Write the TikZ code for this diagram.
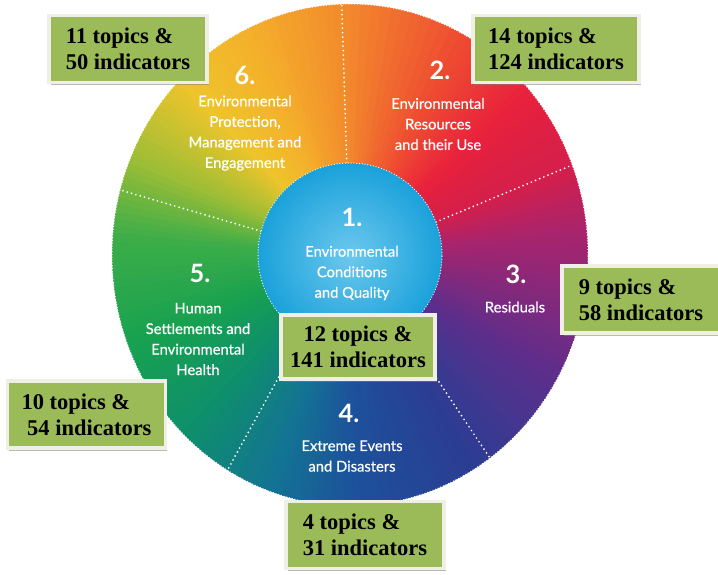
\documentclass[tikz,border=0pt]{standalone}
\usepackage{fontspec}
\setmainfont{Liberation Serif}
\newfontfamily\labfont[FakeBold=0.6]{Lato}
\newfontfamily\numfont{Lato}
\usetikzlibrary{shadows}

\definecolor{boxgreen}{HTML}{9BBB59}
\definecolor{boxframe}{HTML}{EFEFE6}
\definecolor{inblue}{HTML}{1AA1DA}
\definecolor{inlight}{HTML}{6CC8EE}
% colour stops round the wheel
\definecolor{wa}{HTML}{1C519B}
\definecolor{wb}{HTML}{2B3D93}
\definecolor{wc}{HTML}{5E2E8B}
\definecolor{wd}{HTML}{88287A}
\definecolor{we}{HTML}{A8246D}
\definecolor{wf}{HTML}{D41F4B}
\definecolor{wg}{HTML}{E8213C}
\definecolor{wh}{HTML}{EE4A32}
\definecolor{wi}{HTML}{F28A2C}
\definecolor{wj}{HTML}{F4B02B}
\definecolor{wk}{HTML}{EEC42B}
\definecolor{wl}{HTML}{A3BE35}
\definecolor{wm}{HTML}{3CAD49}
\definecolor{wn}{HTML}{18A150}
\definecolor{wo}{HTML}{0E8F6C}
\definecolor{wp}{HTML}{137394}

\begin{document}
\begin{tikzpicture}[x=0.025cm,y=0.025cm]
\tikzstyle{divider} = [draw=white, line width=1.4pt, line cap=round, dash pattern=on 0pt off 3.2pt];
\tikzstyle{rim} = [draw=white, line width=0.9pt, line cap=round, dash pattern=on 0pt off 2pt];
\tikzstyle{num} = [text=white, font=\numfont\bfseries\fontsize{18}{20}\selectfont];
\tikzstyle{lab} = [text=white, align=center, font=\labfont\fontsize{10.5}{14.6}\selectfont];
\tikzstyle{infobox} = [rectangle, fill=boxgreen, draw=boxframe, line width=2.8pt,
text=black, align=left, minimum width=3.95cm, minimum height=1.675cm,
font=\fontsize{16}{18.6}\selectfont\bfseries,
drop shadow={shadow xshift=1.3pt, shadow yshift=-1.8pt, fill=black!50, opacity=0.55}];

\useasboundingbox (0,0) rectangle (718,-574);
\fill[white] (0,0) rectangle (718,-574);

% wheel
\begin{scope}[shift={(350,-255)}]
\foreach \sa/\ea/\ca/\cb in {-90/-60/wa/wb, -60/-30/wb/wc, -30/-10/wc/wd, -10/5/wd/we,
  5/20/we/wf, 20/40/wf/wg, 40/60/wg/wh, 60/90/wh/wi, 90/115/wi/wj, 115/135/wj/wk,
  135/155/wk/wl, 155/175/wl/wm, 175/200/wm/wn, 200/225/wn/wo, 225/250/wo/wp, 250/270/wp/wa}
{
  \foreach \i in {0,...,11}
  {
    \pgfmathsetmacro\t{\sa+(\ea-\sa)*\i/12}
    \pgfmathsetmacro\p{100*\i/12}
    \pgfmathsetmacro\d{(\ea-\sa)/12+0.6}
    \fill[\cb!\p!\ca] (0,0) -- (\t:238 and 251)
      arc[start angle=\t, delta angle=\d, x radius=238, y radius=251] -- cycle;
  }
}
\draw[rim] (0,0) ellipse [x radius=238, y radius=251];
% dividers
\foreach \a in {92,21,-54,-121,165}
  \draw[divider] (\a:92) -- (\a:238 and 251);
% centre
\shade[inner color=inlight, outer color=inblue] (0,0) circle [radius=92];
\draw[rim] (0,0) circle [radius=92];
\end{scope}

% sector 1
\node[num] (num1) at (352,-217) {1.};
\node[lab] (lab1) at (352,-273) {Environmental\\Conditions\\and Quality};
% sector 2
\node[num] (num2) at (440,-70) {2.};
\node[lab] (lab2) at (438,-124) {Environmental\\Resources\\and their Use};
% sector 3
\node[num] (num3) at (516,-274) {3.};
\node[lab] (lab3) at (515,-307) {Residuals};
% sector 4
\node[num] (num4) at (349,-413) {4.};
\node[lab] (lab4) at (352,-456) {Extreme Events\\and Disasters};
% sector 5
\node[num] (num5) at (200,-273) {5.};
\node[lab] (lab5) at (198,-339) {Human\\Settlements and\\Environmental\\Health};
% sector 6
\node[num] (num6) at (245,-75) {6.};
\node[lab] (lab6) at (245,-133) {Environmental\\Protection,\\Management and\\Engagement};

% counts
\node[infobox] (box6) at (128,-49) {11 topics \&\\50 indicators};
\node[infobox, minimum width=4.15cm] (box2) at (556,-49) {14 topics \&\\124 indicators};
\node[infobox] (box3) at (641,-299.5) {9 topics \&\\58 indicators};
\node[infobox, align=center, minimum width=3.85cm, minimum height=1.6cm] (box1) at (358,-347) {12 topics \&\\141 indicators};
\node[infobox] (box5) at (86.5,-414.5) {10 topics \&\\\ 54 indicators};
\node[infobox] (box4) at (365,-535) {4 topics \&\\31 indicators};

\end{tikzpicture}
\end{document}
